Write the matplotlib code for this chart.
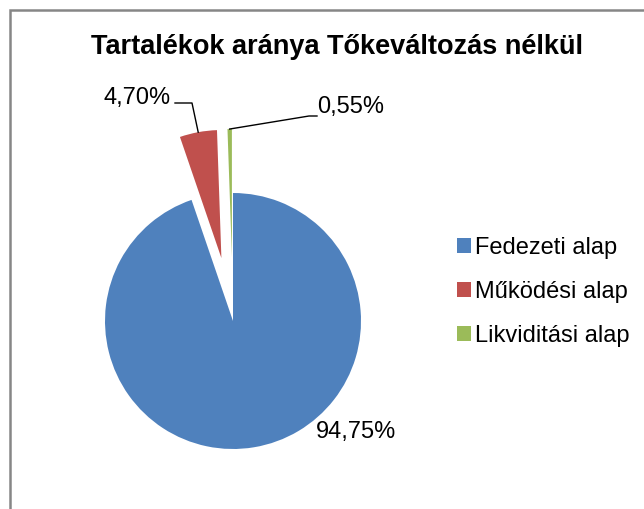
import matplotlib.pyplot as plt
from matplotlib.patches import Rectangle
import numpy as np

# data
title = "Tartalékok aránya Tőkeváltozás nélkül"
categories = ["Fedezeti alap", "Működési alap", "Likviditási alap"]
values = [94.75, 4.70, 0.55]
colors = ["#4F81BD", "#C0504D", "#9BBB59"]
explode = [0.0, 0.5, 0.5]

plt.rcParams['font.family'] = ['Liberation Sans', 'DejaVu Sans']

W, H = 644, 509
fig = plt.figure(figsize=(W / 100, H / 100), dpi=100)

# pie scale: 1 unit = 128 px, centre at pixel (233, 321)
R = 128.0
cx, cy = 233, 321


def px(x, y):
    return (x - cx) / R, (cy - y) / R


ax = fig.add_axes([0, 0, 1, 1])
wedges, _ = ax.pie(values, colors=colors, explode=explode, startangle=90,
                   counterclock=False, radius=1.0,
                   wedgeprops=dict(linewidth=0))
ax.set_xlim(-cx / R, (W - cx) / R)
ax.set_ylim(-(H - cy) / R, cy / R)
ax.set_aspect('auto')
ax.axis('off')

labels = [("%.2f%%" % v).replace('.', ',') for v in values]


def outer_mid(w):
    a = np.deg2rad((w.theta1 + w.theta2) / 2)
    return w.center[0] + w.r * np.cos(a), w.center[1] + w.r * np.sin(a)


# 94,75% - no leader
ax.text(*px(356, 432), labels[0], ha='center', va='center', fontsize=17)

# 4,70% with leader
x0, y0 = outer_mid(wedges[1])
ex, ey = px(192, 103)
hx, hy = px(175, 103)
ax.plot([x0, ex, hx], [y0, ey, hy], color='black', lw=1)
ax.text(*px(171, 98), labels[1], ha='right', va='center', fontsize=17)

# 0,55% with leader
x0, y0 = outer_mid(wedges[2])
ex, ey = px(309, 116)
hx, hy = px(317, 116)
ax.plot([x0, ex, hx], [y0, ey, hy], color='black', lw=1)
ax.text(*px(317, 107), labels[2], ha='left', va='center', fontsize=17)

fig.text(337 / W, 1 - 47 / H, title, ha='center', va='center',
         fontsize=19.5, fontweight='bold')

fig.legend(wedges, categories, loc='center left',
           bbox_to_anchor=(445 / W, 1 - 292 / H), frameon=False,
           fontsize=17, borderpad=0, handlelength=0.58, handleheight=0.58,
           handletextpad=0.21, labelspacing=0.93)

# chart area border (only left and top visible)
fig.patches.append(Rectangle((10 / W, -0.1), 1.2, 1 - 10 / H + 0.1,
                             transform=fig.transFigure, fill=False,
                             edgecolor='#868686', lw=1.8))

plt.savefig("out.png", dpi=100)
